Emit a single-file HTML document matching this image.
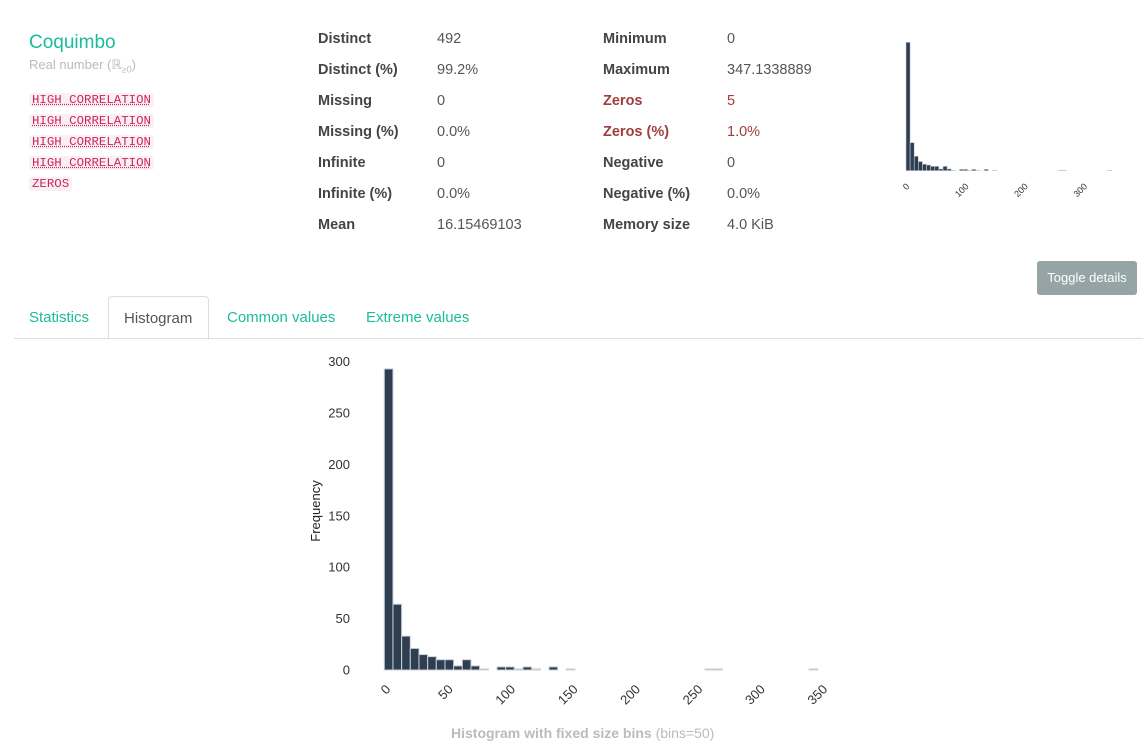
<!DOCTYPE html>
<html><head><meta charset="utf-8"><style>
body{margin:0;width:1143px;height:752px;background:#fff;font-family:"Liberation Sans",sans-serif;position:relative;overflow:hidden}
.a{position:absolute;white-space:nowrap}
.lab{font-weight:bold;color:#444;font-size:14.5px}
.val{color:#555;font-size:14.5px}
.warn{color:#a33c3c}
.tag{position:absolute;left:29px;font-family:"Liberation Mono",monospace;font-size:12.4px;color:#d0245a;background:#f8f0f3;padding:0 3px;border-radius:3px;text-decoration:underline dotted}
.tab{position:absolute;top:296px;height:42px;line-height:44px;font-size:15px;color:#1abc9c;padding:0 15px}
</style></head><body>
<div class="a" style="left:29px;top:32px;font-size:19px;color:#1abc9c">Coquimbo</div>
<div class="a" style="left:29px;top:57px;font-size:13px;color:#bbb">Real number (ℝ<sub style="font-size:9px">≥0</sub>)</div>
<div class="tag" style="top:93px">HIGH CORRELATION</div>
<div class="tag" style="top:114px">HIGH CORRELATION</div>
<div class="tag" style="top:135px">HIGH CORRELATION</div>
<div class="tag" style="top:156px">HIGH CORRELATION</div>
<div class="tag" style="top:177px;text-decoration:none">ZEROS</div>
<div id="stats"></div>
<svg class="a" style="left:0;top:0" width="1143" height="752" id="svg"></svg>
<div class="a" style="left:1037px;top:261px;width:100px;height:34px;line-height:34px;text-align:center;background:#95a5a6;color:#fff;font-size:13px;border-radius:3px">Toggle details</div>
<div class="a" style="left:14px;top:338px;width:1129px;height:1px;background:#ddd"></div>
<div class="tab" style="left:14px">Statistics</div>
<div class="tab" style="left:108px;width:69px;color:#555;border:1px solid #ddd;border-bottom:1px solid #fff;border-radius:4px 4px 0 0;top:296px;height:42px">Histogram</div>
<div class="tab" style="left:212px">Common values</div>
<div class="tab" style="left:351px">Extreme values</div>
<div class="a" style="left:451px;top:725px;font-size:14px;color:#bbb"><b>Histogram with fixed size bins</b> (bins=50)</div>
<script>
const statLabels1=["Distinct","Distinct (%)","Missing","Missing (%)","Infinite","Infinite (%)","Mean"];
const statValues1=["492","99.2%","0","0.0%","0","0.0%","16.15469103"];
const statLabels2=["Minimum","Maximum","Zeros","Zeros (%)","Negative","Negative (%)","Memory size"];
const statValues2=["0","347.1338889","5","1.0%","0","0.0%","4.0 KiB"];
const counts=[293,64,33,21,15,13,10,10,4,10,4,1,0,3,3,1,3,1,0,3,0,1,0,0,0,0,0,0,0,0,0,0,0,0,0,0,0,1,1,0,0,0,0,0,0,0,0,0,0,1];
const xMax=347.1338889;
const mainXTicks=[0,50,100,150,200,250,300,350];
const mainYTicks=[0,50,100,150,200,250,300];
const miniXTicks=[0,100,200,300];
const st=document.getElementById('stats');
function addStat(x,y,t,cls,name){const d=document.createElement('div');d.className='a '+cls;d.style.left=x+'px';d.style.top=(y-7)+'px';d.textContent=t;


st.appendChild(d);}
statLabels1.forEach((l,i)=>{addStat(318,38+31*i,l,'lab','stat-label');addStat(437,38+31*i,statValues1[i],'val','stat-value');});
statLabels2.forEach((l,i)=>{const w=(i==2||i==3)?' warn':'';addStat(603,38+31*i,l,'lab'+w,'stat-label');addStat(727,38+31*i,statValues2[i],'val'+w,'stat-value');});
const NS='http://www.w3.org/2000/svg',svg=document.getElementById('svg');
function el(t,a,p){const e=document.createElementNS(NS,t);for(const k in a)e.setAttribute(k,a[k]);(p||svg).appendChild(e);return e;}
function drawHist(x0,x1,y0,ySc,stroke,name){
 const bw=(x1-x0)/counts.length;const g=el('g',{});
 
 
 counts.forEach((c,i)=>{if(c<=0)return;const h=c*ySc;
  const r=el('rect',{x:x0+i*bw,y:y0-h,width:bw,height:h,fill:'#2e3e50',stroke:'#c9d0d6','stroke-width':stroke},g);
  
  });
}
const mx0=384.3,mx1=817.7,my0=670,myS=(670-361.7)/300;
const mxs=v=>mx0+v*(mx1-mx0)/xMax;
drawHist(mx0,mx1,my0,myS,1,'main-histogram');
mainYTicks.forEach(v=>{const t=el('text',{x:350,y:my0-v*myS+4.5,'text-anchor':'end','font-size':13,fill:'#333'});t.textContent=v;

});
mainXTicks.forEach(v=>{const x=mxs(v)+7,y=690;const t=el('text',{x:x,y:y,'text-anchor':'end','font-size':13,fill:'#333',transform:`rotate(-45 ${x} ${y})`});t.textContent=v;

});
const yt=el('text',{x:320,y:511,'text-anchor':'middle','font-size':13,fill:'#222',transform:'rotate(-90 320 511)'});yt.textContent='Frequency';


const nx0=906,nx1=1111.7,ny0=170.7,nyS=(170.7-42.3)/293;
drawHist(nx0,nx1,ny0,nyS,0.6,'mini-histogram');
miniXTicks.forEach(v=>{const x=nx0+v*(nx1-nx0)/xMax+4,y=187;const t=el('text',{x:x,y:y,'text-anchor':'end','font-size':9,fill:'#333',transform:`rotate(-45 ${x} ${y})`});t.textContent=v;

});
</script>
</body></html>
